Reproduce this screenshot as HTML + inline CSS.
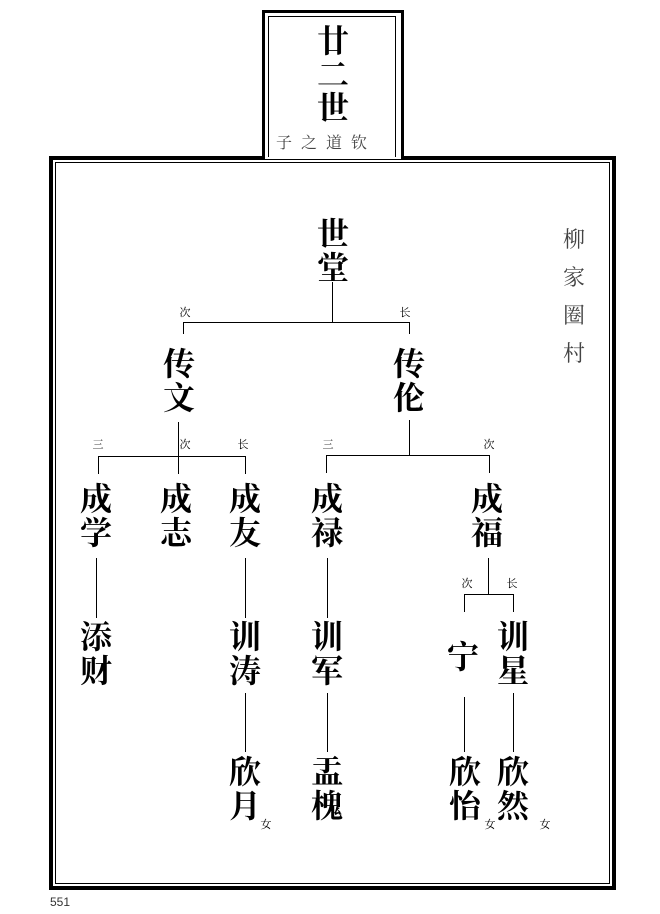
<!DOCTYPE html>
<html><head><meta charset="utf-8"><style>
body{margin:0;width:660px;height:914px;background:#fff;position:relative;overflow:hidden;font-family:"Liberation Serif","Noto Serif CJK SC",serif}
.a{position:absolute}
.c{position:absolute;font-family:"Noto Serif CJK SC",serif;font-weight:700;font-size:32px;line-height:34px;width:40px;text-align:center;color:#000}
.s{position:absolute;font-family:"Noto Serif CJK SC",serif;font-size:11px;line-height:12px;width:16px;text-align:center}
.l{position:absolute;background:#000}
</style></head><body>
<div class="a" style="left:49px;top:156px;width:559px;height:726px;border:4px solid #000"></div>
<div class="a" style="left:55px;top:162px;width:555px;height:722px;border:1px solid #000;box-sizing:border-box"></div>
<div class="a" style="left:262px;top:10px;width:136px;height:146px;border:3px solid #000;border-bottom:none;background:#fff"></div>
<div class="a" style="left:268px;top:16px;width:126px;height:140px;border:1px solid #000;border-bottom:none"></div>
<div class="c" style="left:313px;top:22px">廿</div>
<div class="c" style="left:313px;top:56px">二</div>
<div class="c" style="left:313px;top:89px">世</div>
<div class="a" style="left:276px;top:130px;width:118px;font-family:'Noto Serif CJK SC',serif;font-size:16px;letter-spacing:9px;color:#444">子之道钦</div>
<div class="a" style="left:563px;top:220px;width:24px;font-family:'Noto Serif CJK SC',serif;font-size:22px;line-height:38px;color:#444">柳家圈村</div>
<div class="c" style="left:313px;top:215px">世<br>堂</div>
<div class="c" style="left:159px;top:345px">传<br>文</div>
<div class="c" style="left:389px;top:345px">传<br>伦</div>
<div class="c" style="left:76px;top:480px">成<br>学</div>
<div class="c" style="left:156px;top:480px">成<br>志</div>
<div class="c" style="left:225px;top:480px">成<br>友</div>
<div class="c" style="left:307px;top:480px">成<br>禄</div>
<div class="c" style="left:467px;top:480px">成<br>福</div>
<div class="c" style="left:76px;top:618px">添<br>财</div>
<div class="c" style="left:225px;top:618px">训<br>涛</div>
<div class="c" style="left:307px;top:618px">训<br>军</div>
<div class="c" style="left:443px;top:638px">宁</div>
<div class="c" style="left:493px;top:618px">训<br>星</div>
<div class="c" style="left:225px;top:753px">欣<br>月</div>
<div class="c" style="left:307px;top:753px">盂<br>槐</div>
<div class="c" style="left:445px;top:753px">欣<br>怡</div>
<div class="c" style="left:493px;top:753px">欣<br>然</div>
<div class="s" style="left:258px;top:818px">女</div>
<div class="s" style="left:482px;top:818px">女</div>
<div class="s" style="left:537px;top:818px">女</div>
<div class="s" style="left:177px;top:306px">次</div>
<div class="s" style="left:397px;top:306px">长</div>
<div class="s" style="left:90px;top:438px">三</div>
<div class="s" style="left:177px;top:438px">次</div>
<div class="s" style="left:235px;top:438px">长</div>
<div class="s" style="left:320px;top:438px">三</div>
<div class="s" style="left:481px;top:438px">次</div>
<div class="s" style="left:459px;top:577px">次</div>
<div class="s" style="left:504px;top:577px">长</div>
<div class="l" style="left:332px;top:282px;width:1px;height:40px"></div>
<div class="l" style="left:183px;top:322px;width:226px;height:1px"></div>
<div class="l" style="left:183px;top:322px;width:1px;height:12px"></div>
<div class="l" style="left:409px;top:322px;width:1px;height:12px"></div>
<div class="l" style="left:178px;top:422px;width:1px;height:52px"></div>
<div class="l" style="left:98px;top:456px;width:148px;height:1px"></div>
<div class="l" style="left:98px;top:456px;width:1px;height:18px"></div>
<div class="l" style="left:245px;top:456px;width:1px;height:18px"></div>
<div class="l" style="left:409px;top:420px;width:1px;height:35px"></div>
<div class="l" style="left:326px;top:455px;width:164px;height:1px"></div>
<div class="l" style="left:326px;top:455px;width:1px;height:18px"></div>
<div class="l" style="left:489px;top:455px;width:1px;height:18px"></div>
<div class="l" style="left:96px;top:558px;width:1px;height:60px"></div>
<div class="l" style="left:245px;top:558px;width:1px;height:60px"></div>
<div class="l" style="left:245px;top:693px;width:1px;height:59px"></div>
<div class="l" style="left:327px;top:558px;width:1px;height:60px"></div>
<div class="l" style="left:327px;top:693px;width:1px;height:59px"></div>
<div class="l" style="left:488px;top:558px;width:1px;height:36px"></div>
<div class="l" style="left:464px;top:594px;width:50px;height:1px"></div>
<div class="l" style="left:464px;top:594px;width:1px;height:18px"></div>
<div class="l" style="left:513px;top:594px;width:1px;height:18px"></div>
<div class="l" style="left:464px;top:697px;width:1px;height:55px"></div>
<div class="l" style="left:513px;top:693px;width:1px;height:59px"></div>
<div class="a" style="left:50px;top:895px;font-family:'Liberation Sans',sans-serif;font-size:12px;color:#333">551</div>
</body></html>
